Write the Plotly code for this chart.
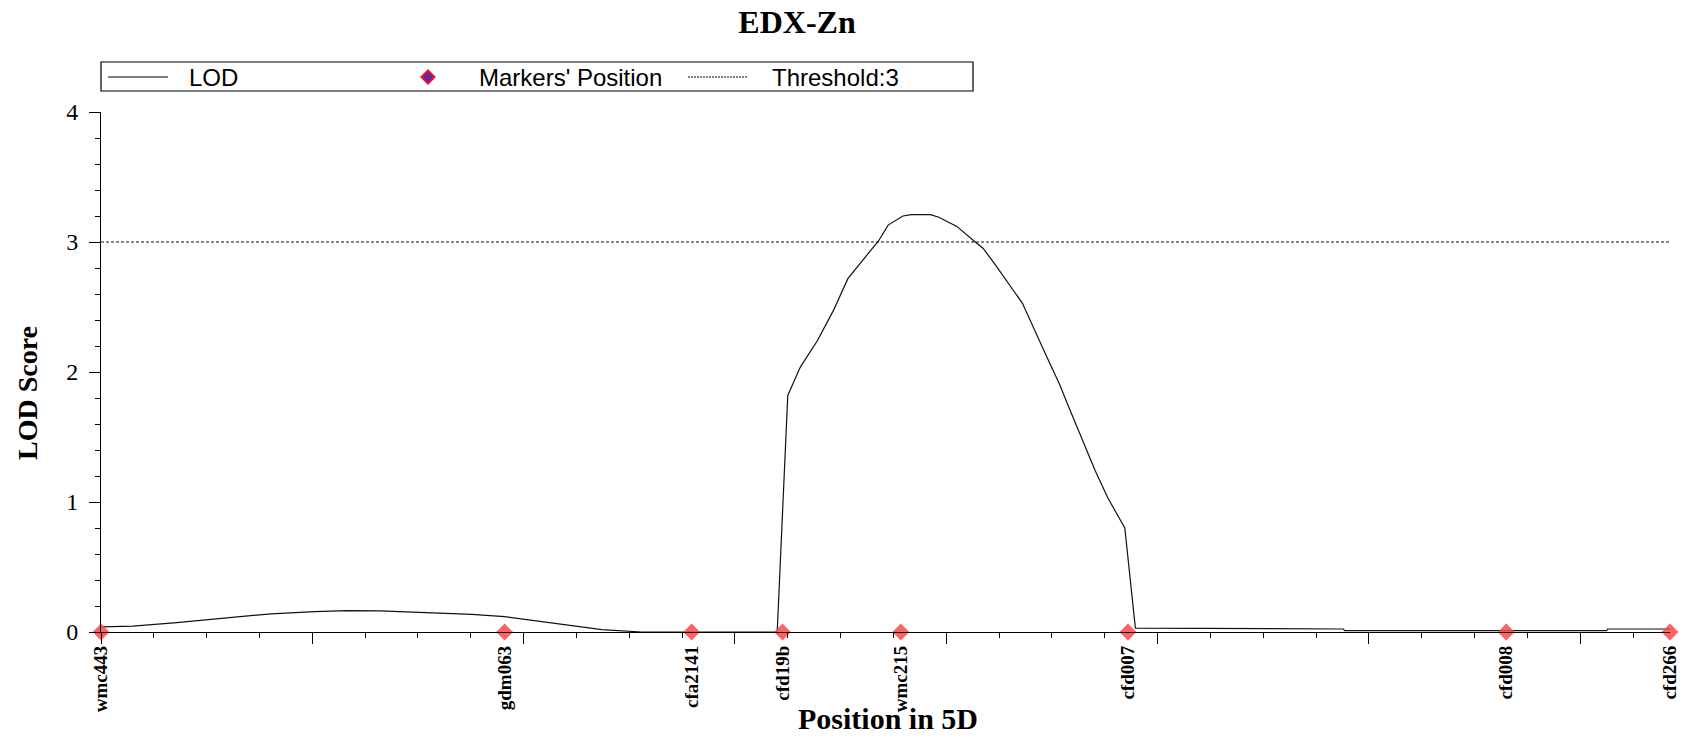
import plotly.graph_objects as go

# Marker map of chromosome 5D (positions in cM)
marker_names = ["wmc443", "gdm063", "cfa2141", "cfd19b", "wmc215", "cfd007", "cfd008", "cfd266"]
marker_pos = [0.0, 38.2, 55.9, 64.5, 75.7, 97.2, 133.0, 148.5]

# LOD profile along the chromosome
lod_pos = [0.0, 3.0, 6.9, 11.0, 16.1, 20.2, 23.3, 26.4, 30.5, 35.1, 38.2, 40.7, 43.8, 47.4,
           51.2, 55.9, 64.0, 65.0, 66.2, 67.8, 69.3, 70.7, 72.2, 73.6, 74.5, 75.9, 76.7,
           78.5, 79.3, 81.0, 82.6, 83.5, 84.6, 87.2, 89.5, 90.7, 91.7, 94.1, 95.3, 96.9,
           97.9, 117.6, 117.7, 142.5, 142.6, 148.5]
lod_val = [0.04, 0.045, 0.07, 0.10, 0.14, 0.157, 0.165, 0.163, 0.15, 0.135, 0.118, 0.09, 0.057, 0.018,
           0.0, 0.0, 0.0, 1.82, 2.04, 2.24, 2.47, 2.72, 2.87, 3.01, 3.13, 3.20, 3.21,
           3.21, 3.19, 3.12, 3.01, 2.95, 2.83, 2.53, 2.12, 1.91, 1.71, 1.24, 1.03, 0.80,
           0.03, 0.023, 0.01, 0.01, 0.023, 0.023]

threshold = 3.0
x_range = [0.0, 148.5]

legend_labels = ["LOD", "Markers' Position", "Threshold:3"]

SERIF = "Times New Roman, Liberation Serif, serif"
SANS = "Arial, Liberation Sans, sans-serif"

W, H = 1699, 738
ML, MR, MT, MB = 101, 29, 112, 106
PW, PH = W - ML - MR, H - MT - MB


def px(xpix):
    """pixel column -> paper x"""
    return (xpix - ML) / PW


def py(ypix):
    """pixel row -> paper y"""
    return (H - MB - ypix) / PH


fig = go.Figure()

fig.add_trace(go.Scatter(
    x=lod_pos, y=lod_val, mode="lines", name=legend_labels[0], showlegend=False,
    line=dict(color="#111111", width=1.2),
))

fig.add_trace(go.Scatter(
    x=x_range, y=[threshold, threshold], mode="lines", name=legend_labels[2], showlegend=False,
    line=dict(color="#111111", width=1, dash="3px,2px"),
))

fig.add_trace(go.Scatter(
    x=marker_pos, y=[0] * len(marker_pos), mode="markers", name=legend_labels[1],
    showlegend=False,
    marker=dict(symbol="diamond", size=13, color="rgba(255,70,70,0.85)", line=dict(width=0)),
    cliponaxis=False,
))

# label axis carrying the marker names
fig.add_trace(go.Scatter(x=marker_pos, y=[None] * len(marker_pos), xaxis="x2",
                         showlegend=False, hoverinfo="skip"))

# legend box drawn in the top band
ly = 77
shapes = [
    dict(type="rect", xref="paper", yref="paper", x0=px(101), x1=px(973), y0=py(91), y1=py(62),
         line=dict(color="black", width=1.2), fillcolor="white", layer="above"),
    dict(type="line", xref="paper", yref="paper", x0=px(108), x1=px(168), y0=py(ly), y1=py(ly),
         line=dict(color="black", width=1.2)),
    dict(type="line", xref="paper", yref="paper", x0=px(688), x1=px(747), y0=py(ly), y1=py(ly),
         line=dict(color="black", width=1, dash="2px,1px")),
]
dx, dy = 6.5 / PW, 6.5 / PH
cx, cy = px(428), py(ly)
shapes.append(dict(
    type="path", xref="paper", yref="paper",
    path=f"M {cx} {cy + dy} L {cx + dx} {cy} L {cx} {cy - dy} L {cx - dx} {cy} Z",
    fillcolor="#5b2d9b", line=dict(color="#e8102a", width=2),
))

legend_text_x = [187, 477, 770]
annotations = [
    dict(text=t, xref="paper", yref="paper", x=px(xx), y=py(ly), xanchor="left", yanchor="middle",
         showarrow=False, font=dict(family=SANS, size=24, color="black"))
    for t, xx in zip(legend_labels, legend_text_x)
]
annotations += [
    dict(text="<b>LOD Score</b>", xref="paper", yref="paper",
         x=px(27), y=py(393), textangle=-90,
         showarrow=False, xanchor="center", yanchor="middle",
         font=dict(family=SERIF, size=28, color="black")),
    dict(text="<b>Position in 5D</b>", xref="paper", yref="paper",
         x=px(888), y=py(718),
         showarrow=False, xanchor="center", yanchor="middle",
         font=dict(family=SERIF, size=30, color="black")),
]

fig.update_layout(
    width=W, height=H,
    margin=dict(l=ML, r=MR, t=MT, b=MB),
    plot_bgcolor="white", paper_bgcolor="white",
    showlegend=False,
    title=dict(text="<b>EDX-Zn</b>", x=797 / W, xanchor="center",
               y=1 - 22 / H, yanchor="middle",
               font=dict(family=SERIF, size=32, color="black")),
    xaxis=dict(range=x_range, showline=True, linecolor="black", linewidth=1,
               ticks="outside", tickvals=list(range(0, 150, 20)), ticklen=11,
               tickcolor="black", showticklabels=False, showgrid=False, zeroline=False,
               minor=dict(dtick=5, ticklen=5, ticks="outside", tickcolor="black", showgrid=False)),
    xaxis2=dict(range=x_range, overlaying="x", side="bottom", showline=False,
                tickvals=marker_pos, ticktext=marker_names, tickangle=-90, ticks="",
                ticklabelstandoff=9,
                tickfont=dict(family=SERIF, size=19, color="black", weight="bold"),
                showgrid=False, zeroline=False),
    yaxis=dict(range=[0, 4], dtick=1, showline=True, linecolor="black", linewidth=1,
               ticks="outside", ticklen=11, tickcolor="black", ticklabelstandoff=6,
               tickfont=dict(family=SERIF, size=24, color="black"),
               showgrid=False, zeroline=False,
               minor=dict(dtick=0.2, ticklen=5, ticks="outside", tickcolor="black", showgrid=False)),
    shapes=shapes,
    annotations=annotations,
)

fig.write_html("out.html")
